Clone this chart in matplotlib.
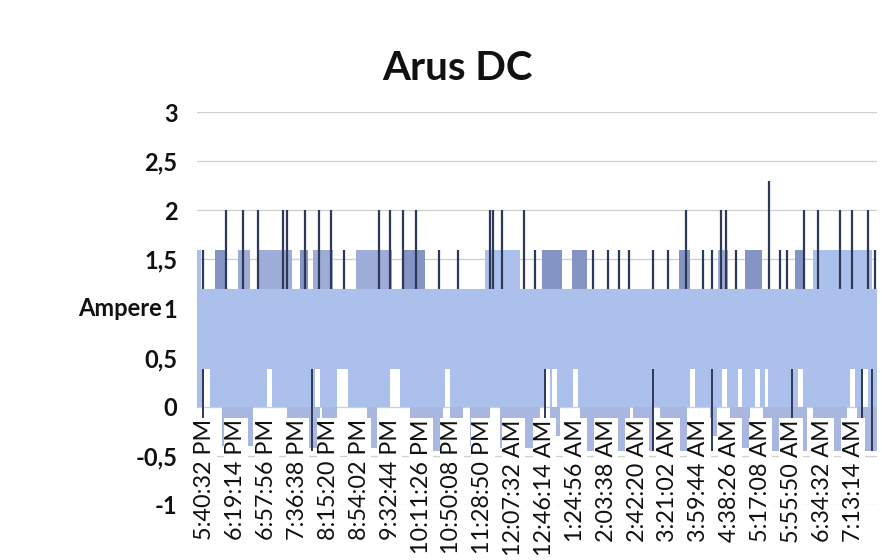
import numpy as np
import pandas as pd
import matplotlib.pyplot as plt

plt.rc('font', family='Lato')

###########################################################################
################################ Data #####################################
###########################################################################

# category labels shown on the x axis (every 38 min 42 s)
label_times = ['5:40:32 PM', '6:19:14 PM', '6:57:56 PM', '7:36:38 PM', '8:15:20 PM',
               '8:54:02 PM', '9:32:44 PM', '10:11:26 PM', '10:50:08 PM', '11:28:50 PM',
               '12:07:32 AM', '12:46:14 AM', '1:24:56 AM', '2:03:38 AM', '2:42:20 AM',
               '3:21:02 AM', '3:59:44 AM', '4:38:26 AM', '5:17:08 AM', '5:55:50 AM',
               '6:34:32 AM', '7:13:14 AM']

y_ticks = [-1, -0.5, 0, 0.5, 1, 1.5, 2, 2.5, 3]

# time range of the logged samples, minutes after 5:40:32 PM
t_first, t_last = -10.0, 842.7

# levels the current toggles between (Ampere)
core_lo, core_hi = 0.38, 1.2
low_level, high_level = 0.0, 1.6

# stretches where the high state reaches 1.6 A (minutes)
high_light = [(-10.0, -5.0), (351.1, 395.0), (762.4, 836.4)]
high_mid = [(41.4, 56.4), (65.2, 109.1), (135.4, 160.5), (189.4, 234.5), (643.3, 655.8)]
high_dark = [(12.5, 27.6), (119.1, 129.2), (247.0, 275.9), (422.6, 447.7),
             (460.2, 479.0), (594.4, 608.2), (677.2, 698.5), (739.9, 752.4)]

# short moments where the low state only drops to core_lo
gap_start = [-2.5, 77.7, 137.9, 165.5, 232.0, 301.0, 426.4, 435.1, 461.5,
             608.2, 648.3, 668.4, 689.7, 702.2, 743.6, 808.8, 825.1]
gap_end = [6.3, 84.0, 144.2, 179.3, 244.5, 307.2, 432.6, 441.4, 467.7,
           614.5, 654.6, 673.4, 696.0, 706.0, 749.9, 815.1, 831.4]

# stretches with negative current
neg_start = [21.3, 102.8, 146.7, 203.1, 257.1, 307.2, 332.3, 369.9, 432.6,
             470.3, 536.7, 570.6, 633.3, 658.4, 699.7, 762.4, 817.6]
neg_end = [60.2, 144.2, 165.5, 215.7, 298.5, 323.5, 357.4, 420.1, 445.2,
           532.9, 561.8, 604.4, 642.0, 683.4, 754.9, 805.1, 842.7]
neg_min = [-0.4, -0.42, -0.42, -0.42, -0.45, -0.4, -0.4, -0.42, -0.3,
           -0.45, -0.45, -0.45, -0.3, -0.42, -0.45, -0.45, -0.45]

# single peaks
spike_t = [26.3, 47.7, 66.5, 97.8, 102.8, 125.4, 143.0, 158.0, 218.2, 232.0,
           248.3, 264.6, 357.5, 361.0, 372.4, 400.0, 603.2, 647.1, 653.3, 707.3,
           751.1, 768.7, 796.3, 811.3, 831.4]
spike_top = [2.0, 2.0, 2.0, 2.0, 2.0, 2.0, 2.0, 2.0, 2.0, 2.0,
             2.0, 2.0, 2.0, 2.0, 2.0, 2.0, 2.0, 2.0, 2.0, 2.3,
             2.0, 2.0, 2.0, 2.0, 2.0]

# isolated switches to 1.6 A
switch_t = [-2.5, 174.3, 293.4, 317.3, 413.8, 486.6, 505.4, 519.2, 531.7,
            561.8, 580.6, 624.5, 635.8, 665.9, 721.1, 729.8, 840.2]

# isolated drops below zero
drop_t = [-2.5, 134.2, 426.4, 561.8, 635.8, 736.1, 823.9, 836.4]
drop_min = -0.45

###########################################################################
############################### Plotting ##################################
###########################################################################

c_light = '#abc0ea'
c_mid = '#9dadd8'
c_dark = '#8494c4'
c_neg = '#a9b6df'
c_line = '#2e3858'

# label positions in minutes after the first label
stamps = pd.to_datetime(label_times, format='%I:%M:%S %p')
label_pos = (stamps - stamps[0]).total_seconds() / 60.0
label_pos = np.where(label_pos < 0, label_pos + 1440, label_pos)

fig = plt.figure(figsize=(8.82, 5.6), dpi=100)
ax = fig.add_axes([197 / 882, 1 - 505 / 560, 680 / 882, 393 / 560])

for y in y_ticks:
    ax.axhline(y, color='#cfcfcf', lw=0.9, zorder=0)

# main band
ax.fill_between([t_first, t_last], core_lo, core_hi, color=c_light, lw=0, zorder=1)

# lower part, without the gaps
edges = [t_first] + [v for pair in zip(gap_start, gap_end) for v in pair] + [t_last]
for a, b in zip(edges[0::2], edges[1::2]):
    ax.fill_between([a, b], low_level, core_lo, color=c_light, lw=0, zorder=1)

for a, b, m in zip(neg_start, neg_end, neg_min):
    ax.fill_between([a, b], m, low_level, color=c_neg, lw=0, zorder=1)

for blocks, col in [(high_light, c_light), (high_mid, c_mid), (high_dark, c_dark)]:
    for a, b in blocks:
        ax.fill_between([a, b], core_hi, high_level, color=col, lw=0, zorder=1)

ax.vlines(spike_t, core_hi, spike_top, color=c_line, lw=1.6, zorder=3)
ax.vlines(switch_t, core_hi, high_level, color=c_line, lw=1.6, zorder=3)
ax.vlines(drop_t, drop_min, core_lo, color=c_line, lw=1.4, zorder=3)

ax.set_xlim(t_first, t_last)
ax.set_ylim(-1, 3)
for s in ax.spines.values():
    s.set_visible(False)
ax.spines['bottom'].set_position(('data', 0))
ax.xaxis.set_zorder(5)

ax.set_xticks(label_pos, labels=label_times)
ax.tick_params(axis='x', length=0, pad=9, labelsize=16.8, rotation=90, labelcolor='#111111')
for lbl in ax.get_xticklabels():
    lbl.set_bbox(dict(facecolor='white', edgecolor='none', pad=1.0))

ax.set_yticks(y_ticks, labels=[('%g' % v).replace('.', ',') for v in y_ticks])
ax.tick_params(axis='y', length=0, pad=14, labelsize=17, labelcolor='#111111')
for lbl in ax.get_yticklabels():
    lbl.set_fontweight('bold')

fig.text(162 / 882, 1 - 309 / 560, 'Ampere', ha='right', va='center',
         fontsize=17, fontweight='bold', color='#111111')
fig.text(457 / 882, 1 - 68 / 560, 'Arus DC', ha='center', va='center',
         fontsize=29, fontweight='bold', color='#111111')

plt.savefig('out.png', dpi=100)
